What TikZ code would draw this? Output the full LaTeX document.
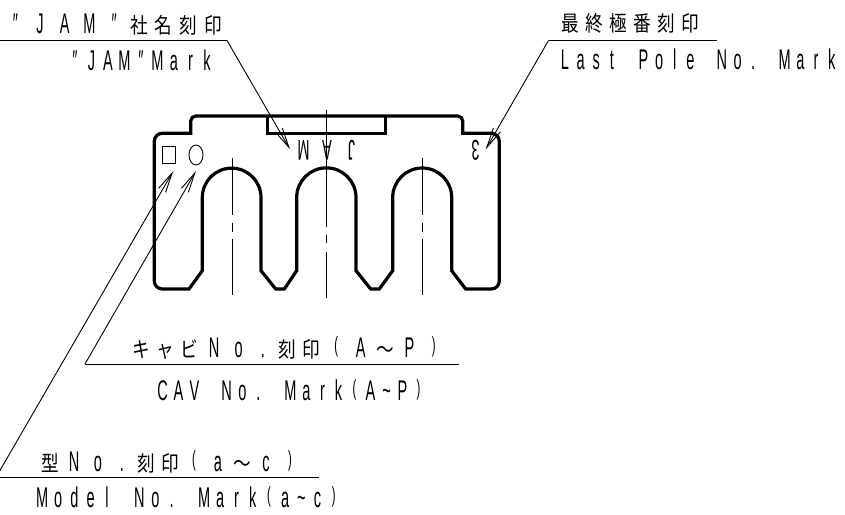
\documentclass[tikz,border=0pt]{standalone}
\usepackage{fontspec}
\usetikzlibrary{arrows.meta}
\newfontfamily\latinfont[FakeStretch=0.51]{Liberation Sans}
\newfontfamily\jpfont[FakeStretch=0.82]{Noto Sans CJK JP}
\newcommand\tld{\char`\~}
\newcommand\lpr{\raisebox{4.6pt}{\fontsize{22}{22}\selectfont(}}
\newcommand\rpr{\raisebox{4.6pt}{\fontsize{22}{22}\selectfont)}}
\def\cellloop#1{\ifx\relax#1\else\makebox[\curpitch][c]{#1}\expandafter\cellloop\fi}
\newcommand\runL[2]{{\def\curpitch{#1}\fontsize{28.5}{28.5}\selectfont\latinfont\cellloop #2\relax}}
\newcommand\runJ[2]{{\def\curpitch{#1}\fontsize{21.5}{21.5}\selectfont\jpfont\cellloop #2\relax}}
\tikzset{
  outline/.style={line width=3.2pt,line join=miter},
  leader/.style={line width=0.9pt},
  pointer/.style={line width=0.9pt,-{Straight Barb[length=20pt,width=8pt,line width=0.9pt]}},
  center line/.style={line width=0.9pt},
  labeltext/.style={anchor=base west,inner sep=0pt,outer sep=0pt},
  mark text/.style={anchor=center,inner sep=0pt,outer sep=0pt,rotate=180,font=\fontsize{28.5}{28.5}\selectfont\latinfont}
}
\begin{document}
\begin{tikzpicture}[x=1pt,y=1pt]
\useasboundingbox (0,0) rectangle (845,-514);
% body outline
\draw[outline]
  (190.7,-133.3) [rounded corners=8pt] -- (154.3,-133.3) -- (154.3,-289) [sharp corners] -- (189,-289)
  -- (202.3,-270.7) -- (202.3,-197.5) arc[start angle=180,end angle=0,radius=29.35pt]
  -- (261,-270.7) -- (275.7,-289) -- (284.3,-289) -- (296.7,-270.7)
  -- (296.7,-197.5) arc[start angle=180,end angle=0,radius=29.65pt]
  -- (356,-270.7) -- (370.7,-289) -- (379.3,-289) -- (392.7,-270.7)
  -- (392.7,-197.5) arc[start angle=180,end angle=0,radius=29.5pt]
  -- (451.7,-270.7) -- (465.7,-289) [rounded corners=8pt] -- (499.3,-289) -- (499.3,-133.3) [sharp corners] -- (462.7,-133.3)
  [rounded corners=5pt] -- (462.7,-116) -- (190.7,-116) [sharp corners] -- cycle;
\draw[outline] (267.7,-116) -- (267.7,-133.3) -- (385.7,-133.3) -- (385.7,-116);
% centre lines
\foreach \cx in {232,422}{
  \draw[center line] (\cx,-158) -- (\cx,-215);
  \draw[center line] (\cx,-222.7) -- (\cx,-231.7);
  \draw[center line] (\cx,-239.3) -- (\cx,-295);
}
\draw[center line] (326.5,-110) -- (326.5,-226.7);
\draw[center line] (326.5,-235) -- (326.5,-243);
\draw[center line] (326.5,-251.7) -- (326.5,-298);
% engraved marks
\node[draw,line width=0.9pt,minimum width=13pt,minimum height=16.6pt,inner sep=0pt] (square) at (169.2,-155) {};
\draw[line width=0.9pt] (196,-155) ellipse [x radius=7pt,y radius=10pt];
\node[mark text] (markM) at (303.5,-150.5) {M};
\node[mark text] (markA) at (327,-150.5) {A};
\node[mark text] (markJ) at (351.5,-150.5) {J};
\node[mark text] (mark3) at (475.5,-150.5) {3};
% leaders
\coordinate (jamleft) at (-2,-40.5);
\coordinate (jamelbow) at (227,-40.5);
\coordinate (jamtip) at (290,-149.3);
\coordinate (lastelbow) at (548.5,-40.5);
\coordinate (lastright) at (717,-40.5);
\coordinate (lasttip) at (485.7,-149.3);
\coordinate (cavelbow) at (85,-364);
\coordinate (cavright) at (459,-364);
\coordinate (cavtip) at (196,-171);
\coordinate (modelelbow) at (-4,-477.3);
\coordinate (modelright) at (319,-477.3);
\coordinate (modeltip) at (173.3,-171);
\draw[leader] (jamleft) -- (jamelbow);
\draw[pointer] (jamelbow) -- (jamtip);
\draw[leader] (lastright) -- (lastelbow);
\draw[pointer] (lastelbow) -- (lasttip);
\draw[leader] (cavright) -- (cavelbow);
\draw[pointer] (cavelbow) -- (cavtip);
\draw[leader] (modelright) -- (modelelbow);
\draw[pointer] (modelelbow) -- (modeltip);
% labels
\node[labeltext] (jamjp) at (3,-33.5) {\runL{24.7pt}{″JAM″}\runJ{24.7pt}{社名刻印}};
\node[labeltext] (jamen) at (66.7,-70.5) {\runL{16.5pt}{″JAM″Mark}};
\node[labeltext] (lastjp) at (558,-31.5) {\runJ{24pt}{最終極番刻印}};
\node[labeltext] (lasten) at (557,-69.5) {\runL{15.7pt}{Last{~}Pole{~}No.{~}Mark}};
\node[labeltext] (cavjp) at (128.8,-357.5) {\runJ{24.4pt}{キャビ}\runL{24.4pt}{No.}\runJ{24.4pt}{刻印}\runL{24.4pt}{\lpr A}\runJ{24.4pt}{～}\runL{24.4pt}{P\rpr}};
\node[labeltext] (caven) at (154.5,-400) {\runL{16pt}{CAV{~}No.{~}Mark\lpr A\tld P\rpr}};
\node[labeltext] (modeljp) at (38,-471.5) {\runJ{24pt}{型}\runL{24pt}{No.}\runJ{24pt}{刻印}\runL{24pt}{\lpr a}\runJ{24pt}{～}\runL{24pt}{c\rpr}};
\node[labeltext] (modelen) at (34,-507.5) {\runL{16.2pt}{Model{~}No.{~}Mark\lpr a\tld c\rpr}};
\end{tikzpicture}
\end{document}
